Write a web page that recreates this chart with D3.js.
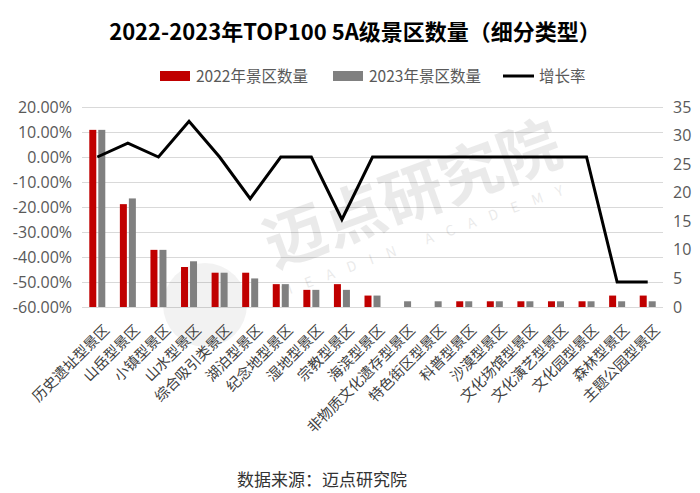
<!DOCTYPE html>
<html>
<head>
<meta charset="utf-8">
<script src="https://cdn.jsdelivr.net/npm/d3@7"></script>
<style>
  body { margin: 0; background: #fff; }
  svg { display: block; font-family: "Noto Sans CJK SC", "Noto Sans", sans-serif; }
</style>
</head>
<body>
<svg id="chart" width="700" height="493"></svg>
<script>
// categories and values
var categories = ['历史遗址型景区', '山岳型景区', '小镇型景区', '山水型景区', '综合吸引类景区',
  '湖泊型景区', '纪念地型景区', '湿地型景区', '宗教型景区', '海滨型景区',
  '非物质文化遗存型景区', '特色街区型景区', '科普型景区', '沙漠型景区', '文化场馆型景区',
  '文化演艺型景区', '文化园型景区', '森林型景区', '主题公园型景区'];
var count2022 = [31, 18, 10, 7, 6, 6, 4, 3, 4, 2, 0, 0, 1, 1, 1, 1, 1, 2, 2];
var count2023 = [31, 19, 10, 8, 6, 5, 4, 3, 3, 2, 1, 1, 1, 1, 1, 1, 1, 1, 1];
var growthRate = [0, 0.0556, 0, 0.1429, 0, -0.1667, 0, 0, -0.25, 0, 0, 0, 0, 0, 0, 0, 0, -0.5, -0.5];
var leftTicks = [0.2, 0.1, 0, -0.1, -0.2, -0.3, -0.4, -0.5, -0.6];
var rightTicks = [0, 5, 10, 15, 20, 25, 30, 35];
var seriesNames = ['2022年景区数量', '2023年景区数量', '增长率'];

var prefs = {
  color2022: '#c00000',
  color2023: '#808080',
  lineColor: '#000',
  textColor: '#595959',
  gridColor: '#d9d9d9'
};

var margin = { top: 107, bottom: 187, left: 82, right: 37 },
    width = 700, height = 493;

var svg = d3.select('#chart');

var x = d3.scaleBand()
  .domain(categories)
  .range([margin.left, width - margin.right]);

var yLeft = d3.scaleLinear()
  .domain([-0.6, 0.2])
  .range([height - margin.bottom + 1, margin.top]);

var yRight = d3.scaleLinear()
  .domain([0, 35])
  .range([height - margin.bottom + 1, margin.top]);

/* Gridlines follow the left axis */
svg.append('g')
  .selectAll('line')
  .data(leftTicks)
  .join('line')
    .attr('x1', margin.left)
    .attr('x2', width - margin.right)
    .attr('y1', function(d) { return Math.round(yLeft(d)) + 0.5; })
    .attr('y2', function(d) { return Math.round(yLeft(d)) + 0.5; })
    .attr('stroke', prefs.gridColor)
    .attr('stroke-width', 1);

/* Faint watermark */
var wm = svg.append('g')
  .attr('transform', 'translate(420,215) rotate(-20)')
  .attr('opacity', 0.08);
wm.append('text')
  .attr('text-anchor', 'middle')
  .attr('font-size', 62)
  .attr('font-weight', 'bold')
  .attr('fill', '#000')
  .text('迈点研究院');
wm.append('text')
  .attr('text-anchor', 'middle')
  .attr('y', 30)
  .attr('font-size', 14)
  .attr('letter-spacing', 14)
  .attr('fill', '#000')
  .text('MEADIN ACADEMY');
svg.append('circle')
  .attr('cx', 205)
  .attr('cy', 305)
  .attr('r', 42)
  .attr('fill', '#000')
  .attr('opacity', 0.05);

/* Bars */
var barW = 7, barGap = 2;
var groups = [
  { values: count2022, color: prefs.color2022, offset: -barW - barGap / 2 },
  { values: count2023, color: prefs.color2023, offset: barGap / 2 }
];

groups.forEach(function(g) {
  svg.append('g')
    .selectAll('rect')
    .data(categories)
    .join('rect')
      .attr('x', function(d) { return x(d) + x.bandwidth() / 2 + g.offset; })
      .attr('y', function(d, i) { return yRight(g.values[i]); })
      .attr('width', barW)
      .attr('height', function(d, i) { return yRight(0) - yRight(g.values[i]); })
      .attr('fill', g.color);
});

/* Growth line */
var line = d3.line()
  .x(function(d, i) { return x(categories[i]) + x.bandwidth() / 2; })
  .y(function(d) { return yLeft(d); });

svg.append('path')
  .datum(growthRate)
  .attr('d', line)
  .attr('fill', 'none')
  .attr('stroke', prefs.lineColor)
  .attr('stroke-width', 3)
  .attr('stroke-linejoin', 'miter');

/* Left axis */
var leftAxis = d3.axisLeft(yLeft)
  .tickValues(leftTicks)
  .tickSize(0)
  .tickPadding(10)
  .tickFormat(function(d) { return (d * 100).toFixed(2) + '%'; });

svg.append('g')
  .attr('transform', 'translate(' + margin.left + ',0)')
  .call(leftAxis)
  .call(function(g) {
    g.select('.domain').remove();
    g.selectAll('text')
      .attr('fill', prefs.textColor)
      .attr('font-size', 16)
      .attr('font-family', '"Open Sans", "Noto Sans", sans-serif');
  });

/* Right axis */
var rightAxis = d3.axisRight(yRight)
  .tickValues(rightTicks)
  .tickSize(0)
  .tickPadding(10);

svg.append('g')
  .attr('transform', 'translate(' + (width - margin.right) + ',0)')
  .call(rightAxis)
  .call(function(g) {
    g.select('.domain').remove();
    g.selectAll('text')
      .attr('fill', prefs.textColor)
      .attr('font-size', 16)
      .attr('font-family', '"Open Sans", "Noto Sans", sans-serif');
  });

/* Category labels, rotated */
svg.append('g')
  .selectAll('text')
  .data(categories)
  .join('text')
    .attr('transform', function(d) {
      return 'translate(' + (x(d) + x.bandwidth() / 2 + 13) + ',' + (yRight(0) + 24) + ') rotate(-45)';
    })
    .attr('text-anchor', 'end')
    .attr('font-size', 14.5)
    .attr('fill', '#404040')
    .text(function(d) { return d; });

/* Title */
svg.append('text')
  .attr('x', 355)
  .attr('y', 40)
  .attr('text-anchor', 'middle')
  .attr('font-size', 22)
  .attr('font-weight', 'bold')
  .attr('fill', '#000')
  .text('2022-2023年TOP100 5A级景区数量（细分类型）');

/* Legend */
var legend = svg.append('g');
var legendItems = [
  { name: seriesNames[0], x: 160, type: 'rect', color: prefs.color2022 },
  { name: seriesNames[1], x: 333, type: 'rect', color: prefs.color2023 },
  { name: seriesNames[2], x: 503, type: 'line', color: prefs.lineColor }
];
legendItems.forEach(function(item) {
  if (item.type === 'rect') {
    legend.append('rect')
      .attr('x', item.x).attr('y', 71)
      .attr('width', 30).attr('height', 10)
      .attr('fill', item.color);
  } else {
    legend.append('line')
      .attr('x1', item.x).attr('x2', item.x + 31)
      .attr('y1', 76).attr('y2', 76)
      .attr('stroke', item.color)
      .attr('stroke-width', 3);
  }
  legend.append('text')
    .attr('x', item.x + 36)
    .attr('y', 81.5)
    .attr('font-size', 15.5)
    .attr('fill', prefs.textColor)
    .text(item.name);
});

/* Source note */
svg.append('text')
  .attr('x', 237)
  .attr('y', 486)
  .attr('font-size', 17)
  .attr('fill', '#333')
  .text('数据来源：迈点研究院');
</script>
</body>
</html>
